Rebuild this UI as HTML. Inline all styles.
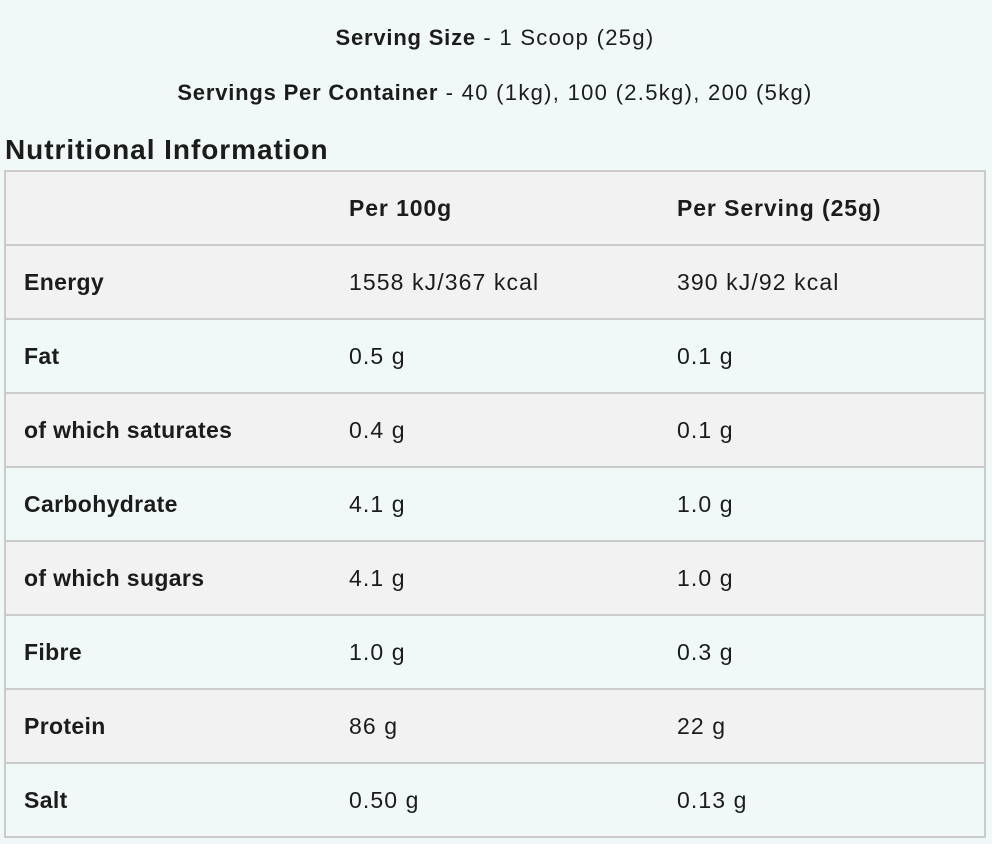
<!DOCTYPE html>
<html>
<head>
<meta charset="utf-8">
<style>
  html,body{margin:0;padding:0;}
  body{width:992px;height:844px;background:#f1f8f8;position:relative;overflow:hidden;
       font-family:"Liberation Sans",Arial,sans-serif;color:#1c1c1c;}
  .top{position:absolute;left:0;width:990px;text-align:center;font-size:22px;line-height:1;white-space:nowrap;}
  .top b{font-weight:700;letter-spacing:0.8px;}
  .top span{font-weight:400;letter-spacing:1.3px;}
  .h{position:absolute;left:5px;top:135.6px;font-size:28px;line-height:1;font-weight:700;letter-spacing:0.95px;white-space:nowrap;}
  .tbl{position:absolute;left:4px;top:170px;width:982px;height:668px;box-sizing:border-box;border:2px solid #cbcbcb;}
  .row{position:relative;height:72px;border-bottom:2px solid #cbcbcb;}
  .row:last-child{border-bottom:none;}
  .g{background:#f2f2f2;}
  .l{background:#f1f8f8;}
  .c{position:absolute;top:0;height:72px;line-height:72px;font-size:23px;white-space:nowrap;}
  .c1{left:18px;font-weight:700;letter-spacing:0.35px;}
  .c2{left:343px;letter-spacing:1.1px;}
  .c3{left:671px;letter-spacing:1.1px;}
  .hd{font-weight:700;letter-spacing:0.9px;}
</style>
</head>
<body>
  <div class="top" style="top:27.4px;"><b>Serving Size</b><span> - 1 Scoop (25g)</span></div>
  <div class="top" style="top:82.4px;"><b>Servings Per Container</b><span> - 40 (1kg), 100 (2.5kg), 200 (5kg)</span></div>
  <div class="h">Nutritional Information</div>
  <div class="tbl">
    <div class="row g"><div class="c c2 hd">Per 100g</div><div class="c c3 hd">Per Serving (25g)</div></div>
    <div class="row g"><div class="c c1">Energy</div><div class="c c2">1558 kJ/367 kcal</div><div class="c c3">390 kJ/92 kcal</div></div>
    <div class="row l"><div class="c c1">Fat</div><div class="c c2">0.5 g</div><div class="c c3">0.1 g</div></div>
    <div class="row g"><div class="c c1">of which saturates</div><div class="c c2">0.4 g</div><div class="c c3">0.1 g</div></div>
    <div class="row l"><div class="c c1">Carbohydrate</div><div class="c c2">4.1 g</div><div class="c c3">1.0 g</div></div>
    <div class="row g"><div class="c c1">of which sugars</div><div class="c c2">4.1 g</div><div class="c c3">1.0 g</div></div>
    <div class="row l"><div class="c c1">Fibre</div><div class="c c2">1.0 g</div><div class="c c3">0.3 g</div></div>
    <div class="row g"><div class="c c1">Protein</div><div class="c c2">86 g</div><div class="c c3">22 g</div></div>
    <div class="row l"><div class="c c1">Salt</div><div class="c c2">0.50 g</div><div class="c c3">0.13 g</div></div>
  </div>
</body>
</html>
